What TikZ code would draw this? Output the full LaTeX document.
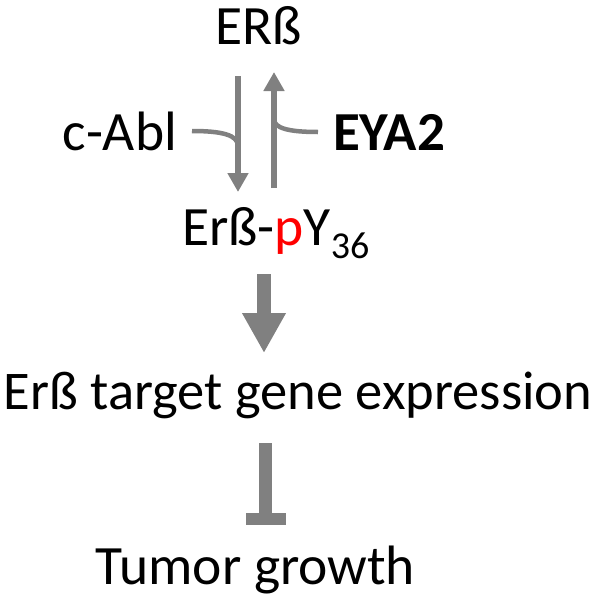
\documentclass[tikz,border=0pt]{standalone}
\usepackage{fontspec}
\setmainfont{Carlito}
\usetikzlibrary{arrows.meta}
\definecolor{arrgray}{RGB}{128,128,128}
\tikzset{
  lbl/.style={inner sep=0pt, outer sep=0pt, font=\fontsize{55.5}{60}\selectfont},
  thinarr/.style={draw=arrgray, line width=6.7pt, -{Triangle[width=20pt,length=19pt]}},
  modline/.style={draw=arrgray, line width=4.5pt},
  bigarr/.style={draw=arrgray, line width=14pt, -{Triangle[width=41pt,length=40pt]}},
  inhib/.style={draw=arrgray, line width=13pt, -{Rectangle[width=40pt,length=12pt]}}
}
\begin{document}
\begin{tikzpicture}[x=1pt,y=-1pt]
\useasboundingbox (0,0) rectangle (599,600);
% labels
\node[lbl, anchor=base] (erb) at (259,44) {ERß};
\node[lbl, anchor=base east] (cabl) at (177,150) {c-Abl};
\node[lbl, anchor=base west, font=\fontsize{55}{60}\selectfont\bfseries] (eya) at (333,150) {EYA2};
\node[lbl, anchor=base west] (perb) at (182,245) {Erß-\textcolor{red}{p}Y\raisebox{-13pt}{\fontsize{38}{40}\selectfont 36}};
\node[lbl, anchor=base, font=\fontsize{54.5}{60}\selectfont] (target) at (298,409) {Erß target gene expression};
\node[lbl, anchor=base] (tumor) at (255.5,584) {Tumor growth};
% connector end points
\coordinate (dtop) at (238,76);
\coordinate (dbot) at (238,192);
\coordinate (ubot) at (274,188);
\coordinate (utop) at (274,72);
\coordinate (cablend) at (192,131);
\coordinate (djoin) at (238,146);
\coordinate (eyaend) at (318,132);
\coordinate (ujoin) at (274,119);
\coordinate (btop) at (264,274);
\coordinate (bbot) at (264,353);
\coordinate (ttop) at (265.5,443);
\coordinate (tbot) at (265.5,525);
% connectors
\draw[thinarr] (dtop) -- (dbot);
\draw[thinarr] (ubot) -- (utop);
\draw[modline] (cablend) .. controls (222,131) and (238,135) .. (djoin);
\draw[modline] (eyaend) .. controls (288,132) and (274,128) .. (ujoin);
\draw[bigarr] (btop) -- (bbot);
\draw[inhib] (ttop) -- (tbot);
\end{tikzpicture}
\end{document}
